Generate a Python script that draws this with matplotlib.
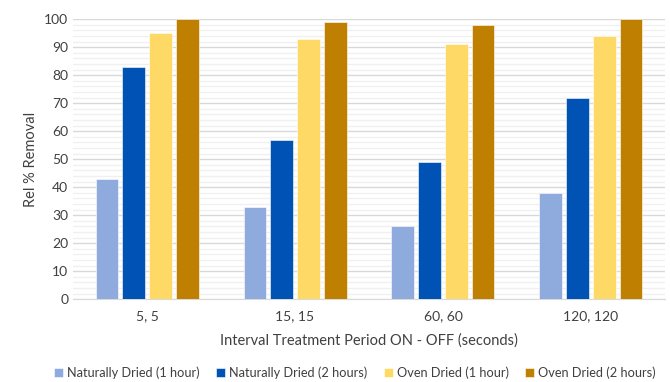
import numpy as np
import matplotlib.pyplot as plt
from matplotlib.ticker import MultipleLocator

plt.rcParams['font.family'] = ['Lato', 'DejaVu Sans']

# categorias e series
categorias = ['5, 5', '15, 15', '60, 60', '120, 120']
nat_1h = [43, 33, 26, 38]
nat_2h = [83, 57, 49, 72]
oven_1h = [95, 93, 91, 94]
oven_2h = [100, 99, 98, 100]

series = [
    ('Naturally Dried (1 hour)', nat_1h, '#8FAADC'),
    ('Naturally Dried (2 hours)', nat_2h, '#0052B4'),
    ('Oven Dried (1 hour)', oven_1h, '#FFD966'),
    ('Oven Dried (2 hours)', oven_2h, '#BF7F00'),
]

fig = plt.figure(figsize=(6.7, 3.82), dpi=100)
ax = fig.add_axes([0.109, 0.217, 0.8835, 0.733])

x = np.arange(len(categorias))
passo = 0.182
for i, (nome, vals, cor) in enumerate(series):
    ax.bar(x + (i - 1.5) * passo, vals, width=0.15, color=cor, label=nome,
           edgecolor='white', linewidth=0.4, zorder=3)

ax.set_xlim(-0.5, len(categorias) - 0.5)
ax.set_ylim(0, 100)
ax.yaxis.set_major_locator(MultipleLocator(10))
ax.yaxis.set_minor_locator(MultipleLocator(2))
ax.grid(which='major', axis='y', color='#D9D9D9', linewidth=1.0, zorder=0)
ax.grid(which='minor', axis='y', color='#F0F0F0', linewidth=1.0, zorder=0)
ax.set_xticks(x)
ax.set_xticklabels(categorias)
ax.tick_params(axis='both', which='both', length=0, labelsize=10, colors='#404040')
ax.tick_params(axis='x', pad=8)
for lado in ['top', 'right', 'left']:
    ax.spines[lado].set_visible(False)
ax.spines['bottom'].set_color('#D9D9D9')

ax.set_ylabel('Rel % Removal', fontsize=10.5, color='#404040')
ax.set_xlabel('Interval Treatment Period ON - OFF (seconds)', fontsize=10.5,
              color='#404040', labelpad=8)

fig.legend(loc='center', bbox_to_anchor=(0.53, 0.025), ncol=4, frameon=False,
           fontsize=9.2, handlelength=0.7, handleheight=0.7, handletextpad=0.3,
           columnspacing=1.3, labelcolor='#404040', borderpad=0)

plt.savefig('out.png', dpi=100)
